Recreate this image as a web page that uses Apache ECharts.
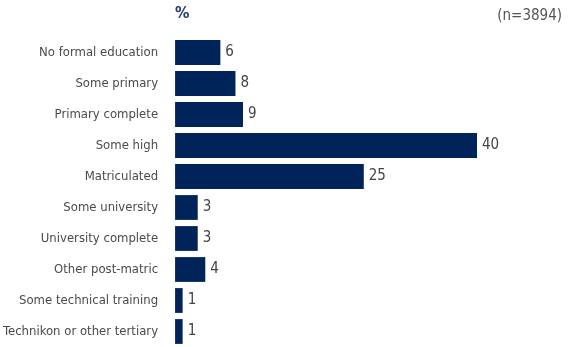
<!DOCTYPE html>
<html lang="en">
  <head>
    <meta charset="UTF-8" />
    <title>Education</title>
    <script src="https://cdn.jsdelivr.net/npm/echarts@6.0.0/dist/echarts.min.js"></script>
    <style>
      body { margin: 0; background: #fff; }
    </style>
  </head>
  <body>
    <div id="main" style="width: 568px; height: 347px"></div>
    <script type="text/javascript">
      var categories = [
        "No formal education",
        "Some primary",
        "Primary complete",
        "Some high",
        "Matriculated",
        "Some university",
        "University complete",
        "Other post-matric",
        "Some technical training",
        "Technikon or other tertiary",
      ];
      var values = [6, 8, 9, 40, 25, 3, 3, 4, 1, 1];

      var font = "'DejaVu Sans Condensed', sans-serif";
      var myChart = echarts.init(document.getElementById("main"));

      var option = {
        animation: false,
        graphic: [
          {
            type: "text",
            left: 175,
            top: 6,
            style: { text: "%", fill: "#1f3a6e", font: "bold 16px " + font },
          },
          {
            type: "text",
            right: 6,
            top: 9,
            style: { text: "(n=3894)", fill: "#555", font: "15px " + font },
          },
        ],
        grid: { left: 175, top: 37, width: 302, height: 313 },
        xAxis: { type: "value", min: 0, max: 40, show: false },
        yAxis: {
          type: "category",
          inverse: true,
          data: categories,
          axisLine: { show: false },
          axisTick: { show: false },
          axisLabel: { margin: 17, color: "#4a4a4a", fontSize: 13, fontFamily: font },
        },
        series: [
          {
            type: "bar",
            data: values,
            barCategoryGap: "20%",
            itemStyle: { color: "#00245a" },
            label: {
              show: true,
              position: "right",
              distance: 5,
              color: "#444",
              fontSize: 15,
              fontFamily: font,
            },
          },
        ],
      };
      myChart.setOption(option);
    </script>
  </body>
</html>
